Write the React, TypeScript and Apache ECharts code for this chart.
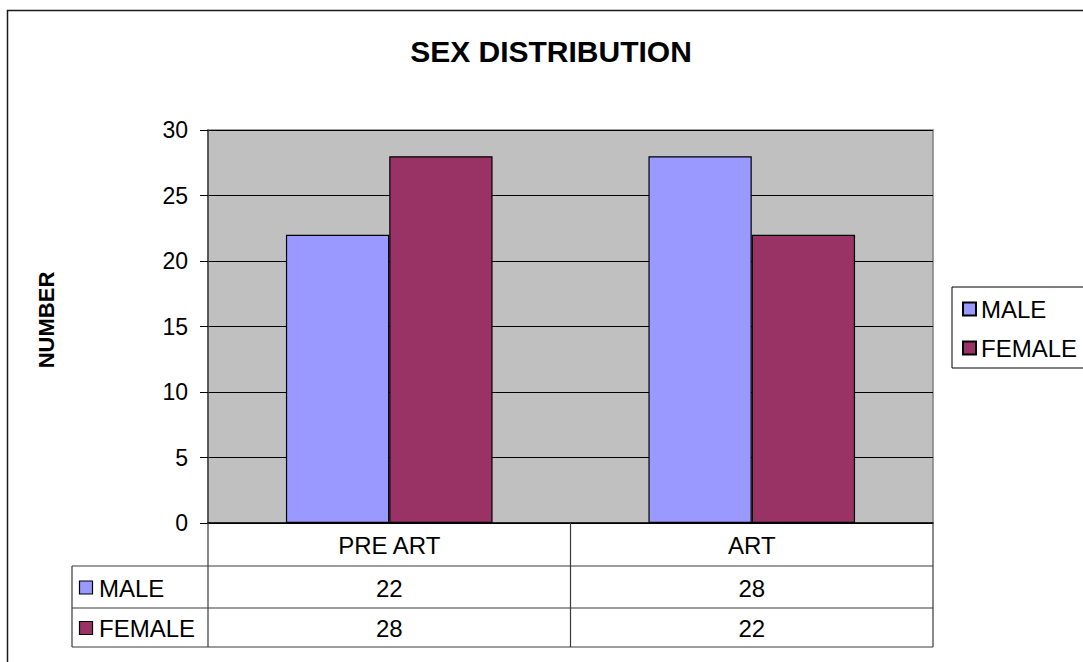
import React, { useEffect, useRef } from "react";
import * as echarts from "echarts";

const categories = ["PRE ART", "ART"];
const seriesNames = ["MALE", "FEMALE"];
const maleValues = [22, 28];
const femaleValues = [28, 22];
const yTicks = [0, 5, 10, 15, 20, 25, 30];

const COLORS = ["#9999FF", "#993366"];
const FONT = "'Liberation Sans', Arial, sans-serif";

const GRID = { left: 208, top: 130, width: 725, height: 393 };
const TABLE_ROWS = [523, 566, 608, 647];
const TABLE_LEFT = 72;

export default function App() {
  const ref = useRef<HTMLDivElement>(null);

  useEffect(() => {
    if (!ref.current) return;
    const chart = echarts.init(ref.current, undefined, { renderer: "svg" });

    const gridRight = GRID.left + GRID.width;
    const colW = GRID.width / categories.length;
    const seriesData = [maleValues, femaleValues];

    const graphics: any[] = [];
    // outer border
    graphics.push({
      type: "rect",
      shape: { x: 7.5, y: 10.5, width: 1200, height: 800 },
      style: { fill: "none", stroke: "#1a1a1a", lineWidth: 1.5 },
      silent: true,
      z: 0,
    });
    // title
    graphics.push({
      type: "text",
      x: 551,
      y: 51,
      style: {
        text: "SEX DISTRIBUTION",
        font: `bold 30px ${FONT}`,
        fill: "#000",
        align: "center",
        verticalAlign: "middle",
      },
    });
    // y axis title
    graphics.push({
      type: "text",
      x: 46,
      y: 320,
      rotation: Math.PI / 2,
      style: {
        text: "NUMBER",
        font: `bold 22px ${FONT}`,
        fill: "#000",
        align: "center",
        verticalAlign: "middle",
      },
    });
    // table lines
    const lineStyle = { stroke: "#3a3a3a", lineWidth: 1.2 };
    for (let r = 1; r < TABLE_ROWS.length; r++) {
      graphics.push({
        type: "line",
        shape: { x1: TABLE_LEFT, y1: TABLE_ROWS[r], x2: gridRight, y2: TABLE_ROWS[r] },
        style: lineStyle,
        z: 10,
      });
    }
    graphics.push({
      type: "line",
      shape: { x1: TABLE_LEFT, y1: TABLE_ROWS[1], x2: TABLE_LEFT, y2: TABLE_ROWS[3] },
      style: lineStyle,
      z: 10,
    });
    for (let c = 0; c <= categories.length; c++) {
      const x = GRID.left + c * colW;
      graphics.push({
        type: "line",
        shape: { x1: x, y1: TABLE_ROWS[0], x2: x, y2: TABLE_ROWS[3] },
        style: lineStyle,
        z: 10,
      });
    }
    // category labels
    categories.forEach((cat, i) => {
      graphics.push({
        type: "text",
        x: GRID.left + (i + 0.5) * colW,
        y: (TABLE_ROWS[0] + TABLE_ROWS[1]) / 2 + 1,
        style: {
          text: cat,
          font: `24px ${FONT}`,
          fill: "#000",
          align: "center",
          verticalAlign: "middle",
        },
        z: 10,
      });
    });
    // series rows
    seriesNames.forEach((name, s) => {
      const cy = (TABLE_ROWS[s + 1] + TABLE_ROWS[s + 2]) / 2 + 1;
      graphics.push({
        type: "rect",
        shape: { x: 79.5, y: cy - 7, width: 13, height: 13 },
        style: { fill: COLORS[s], stroke: "#000", lineWidth: 1.2 },
        z: 10,
      });
      graphics.push({
        type: "text",
        x: 99,
        y: cy,
        style: {
          text: name,
          font: `24px ${FONT}`,
          fill: "#000",
          align: "left",
          verticalAlign: "middle",
        },
        z: 10,
      });
      seriesData[s].forEach((v, i) => {
        graphics.push({
          type: "text",
          x: GRID.left + (i + 0.5) * colW,
          y: cy,
          style: {
            text: String(v),
            font: `24px ${FONT}`,
            fill: "#000",
            align: "center",
            verticalAlign: "middle",
          },
          z: 10,
        });
      });
    });

    chart.setOption({
      animation: false,
      backgroundColor: "#fff",
      textStyle: { fontFamily: FONT },
      grid: {
        left: GRID.left,
        top: GRID.top,
        width: GRID.width,
        height: GRID.height,
        show: true,
        backgroundColor: "#C0C0C0",
        borderColor: "#808080",
        borderWidth: 1.5,
      },
      legend: {
        orient: "vertical",
        left: 952,
        top: 287,
        data: seriesNames,
        icon: "rect",
        itemWidth: 13,
        itemHeight: 13,
        itemGap: 15,
        padding: [10, 40, 8, 10],
        borderColor: "#000",
        borderWidth: 1,
        textStyle: { fontSize: 24, color: "#000", fontFamily: FONT },
      },
      xAxis: {
        type: "category",
        data: categories,
        axisLabel: { show: false },
        axisTick: { show: false },
        axisLine: { show: true, lineStyle: { color: "#000", width: 1.5 } },
        splitLine: { show: false },
      },
      yAxis: {
        type: "value",
        min: yTicks[0],
        max: yTicks[yTicks.length - 1],
        interval: yTicks[1] - yTicks[0],
        axisLine: { show: true, lineStyle: { color: "#444", width: 1.5 } },
        axisTick: { show: true, inside: false, length: 8, lineStyle: { color: "#000" } },
        axisLabel: { fontSize: 23, color: "#000", margin: 20, fontFamily: FONT },
        splitLine: { show: true, lineStyle: { color: "#000", width: 1 } },
      },
      series: [
        {
          name: seriesNames[0],
          type: "bar",
          data: maleValues,
          barGap: "0%",
          barCategoryGap: "43%",
          itemStyle: { color: COLORS[0], borderColor: "#000", borderWidth: 1.2 },
        },
        {
          name: seriesNames[1],
          type: "bar",
          data: femaleValues,
          barGap: "0%",
          barCategoryGap: "43%",
          itemStyle: { color: COLORS[1], borderColor: "#000", borderWidth: 1.2 },
        },
      ],
      graphic: graphics,
    });

    return () => chart.dispose();
  }, []);

  return (
    <div
      ref={ref}
      style={{ position: "fixed", left: 0, top: 0, width: 1083, height: 662 }}
    />
  );
}
